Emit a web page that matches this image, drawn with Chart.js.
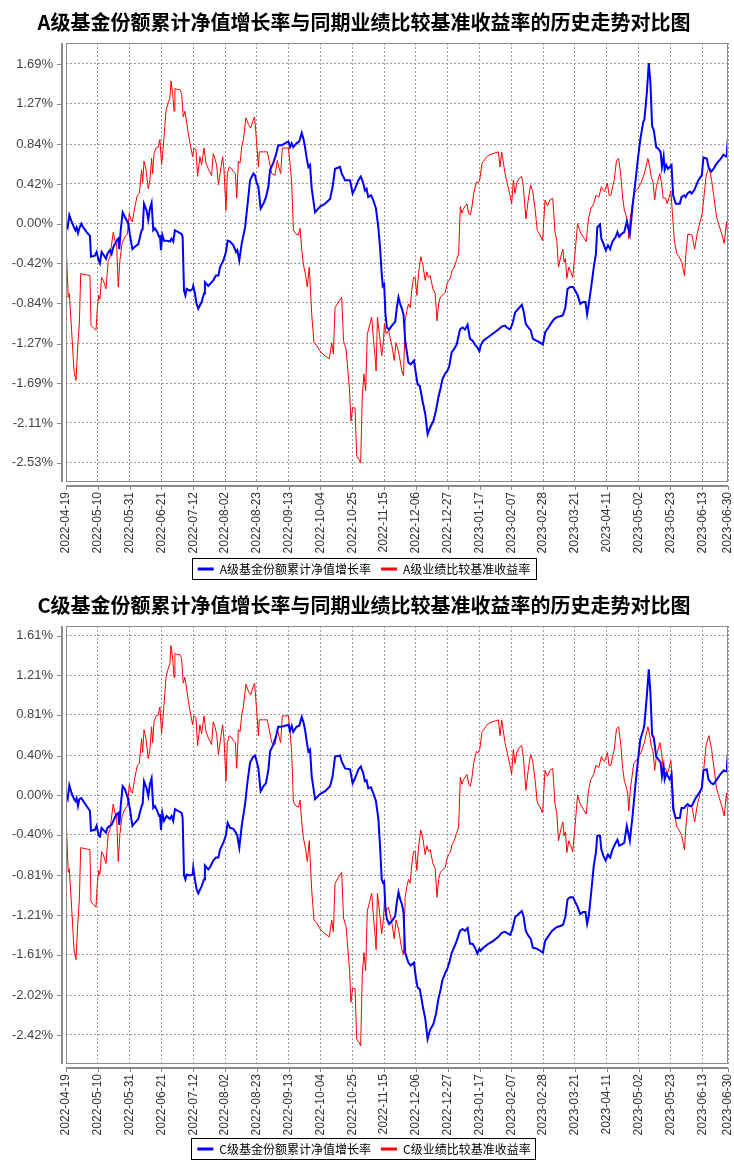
<!DOCTYPE html>
<html><head><meta charset="utf-8">
<script src="https://cdn.jsdelivr.net/npm/chart.js@4.4.1/dist/chart.umd.min.js"></script>
<style>
html,body{margin:0;padding:0;background:#fff;overflow:hidden;width:734px;height:1160px;}
.box{position:absolute;left:0;width:734px;}
#wa{top:0;height:585px;}
#wc{top:583px;height:582px;}
</style></head><body>
<div class="box" id="wa"><canvas id="ca"></canvas></div>
<div class="box" id="wc"><canvas id="cc"></canvas></div>
<script>
// ---- x axis: day offsets from 2022-04-19 and their date labels ----
const xTickDays = [0,21,42,63,84,105,126,147,168,189,210,231,252,273,294,315,336,357,378,399,420,437];
const xTickLabels = ['2022-04-19','2022-05-10','2022-05-31','2022-06-21','2022-07-12','2022-08-02','2022-08-23',
  '2022-09-13','2022-10-04','2022-10-25','2022-11-15','2022-12-06','2022-12-27','2023-01-17','2023-02-07',
  '2023-02-28','2023-03-21','2023-04-11','2023-05-02','2023-05-23','2023-06-13','2023-06-30'];

// ---- y tick labels (percent) ----
const yTicksA = [-2.53,-2.11,-1.69,-1.27,-0.84,-0.42,0.00,0.42,0.84,1.27,1.69];
const yTicksC = [-2.42,-2.02,-1.61,-1.21,-0.81,-0.40,0.00,0.40,0.81,1.21,1.61];

// ---- NAV series (days from 2022-04-19) ----
const navDays = [
  0,1.1,2.2,3.7,5.3,6.2,7.0,7.9,8.8,10.1,
  11.4,13.6,15.8,16.5,19.1,20.2,21.6,22.4,23.5,26.4,
  27.3,29.0,30.1,31.2,33.4,34.5,35.2,36.1,37.4,38.9,
  41.1,42.2,43.8,46.6,47.7,49.9,50.6,51.5,53.2,54.3,
  55.4,56.5,57.6,58.7,60.3,61.4,62.0,62.7,63.6,64.7,
  66.4,68.6,69.7,70.8,71.9,74.1,76.3,77.0,77.9,78.8,
  79.6,81.8,83.6,84.0,85.1,86.2,87.3,89.5,91.1,91.7,
  93.9,95.0,97.2,99.0,100.6,101.7,103.9,105.6,106.7,108.3,
  110.5,112.2,113.1,114.4,116.0,118.2,119.7,121.5,123.7,124.8,
  125.9,127.0,128.5,130.3,132.0,133.6,134.7,136.8,138.6,140.1,
  142.4,144.6,146.8,147.9,149.0,150.0,152.2,154.0,155.6,156.7,
  157.8,158.9,160.0,161.1,162.2,164.4,167.7,171.0,174.3,176.0,
  177.6,180.9,182.0,184.2,187.5,189.2,190.8,193.0,194.6,196.2,
  197.3,198.4,199.5,201.3,202.8,204.6,206.2,207.3,208.4,209.1,
  210.0,210.9,211.8,213.3,215.1,217.3,218.4,219.5,220.6,221.7,
  222.8,223.9,226.0,227.5,229.7,231.0,232.1,233.6,235.4,237.2,
  238.7,240.3,242.5,244.2,245.8,247.3,248.4,250.2,251.7,253.0,
  254.6,256.1,257.9,260.1,261.8,263.4,265.1,266.7,268.4,270.0,
  271.5,272.9,273.7,275.5,278.8,282.1,285.4,287.6,289.8,290.9,
  293.2,294.7,296.5,298.7,300.9,302.0,303.5,305.3,306.8,308.2,
  310.8,313.0,314.8,316.3,318.5,320.8,322.3,324.1,326.3,328.0,
  329.6,331.1,332.9,334.7,336.2,337.8,339.5,341.3,342.9,344.0,
  345.1,346.7,348.4,349.8,350.7,352.5,353.4,354.7,356.3,357.8,
  359.2,360.7,362.9,364.0,365.2,366.7,368.5,370.2,372.2,374.0,
  375.8,377.4,379.1,381.1,381.8,383.4,384.7,385.8,386.9,388.0,
  389.6,391.1,392.5,393.4,394.5,395.2,396.3,397.4,398.5,399.7,
  400.8,402.5,405.2,406.3,408.1,409.0,410.3,411.9,413.0,414.1,
  415.2,417.4,419.7,420.8,423.0,424.1,425.9,427.4,429.7,431.9,
  434.1,435.7,436.3,437];

const navA = [
  0,-0.04,0.09,0.02,-0.04,-0.07,-0.04,-0.10,-0.05,0,
  -0.04,-0.09,-0.13,-0.35,-0.34,-0.30,-0.39,-0.42,-0.30,-0.37,
  -0.32,-0.28,-0.32,-0.25,-0.18,-0.16,-0.27,-0.07,0.12,0.07,
  0,-0.12,-0.27,-0.23,-0.22,-0.07,-0.06,0.21,0.14,0.04,
  0.16,0.22,-0.07,-0.05,-0.09,-0.14,-0.12,-0.28,-0.12,-0.18,
  -0.18,-0.19,-0.16,-0.19,-0.07,-0.09,-0.11,-0.14,-0.71,-0.76,
  -0.69,-0.71,-0.69,-0.66,-0.74,-0.85,-0.90,-0.83,-0.74,-0.62,
  -0.66,-0.64,-0.60,-0.55,-0.55,-0.46,-0.39,-0.30,-0.18,-0.19,
  -0.23,-0.30,-0.28,-0.39,-0.21,-0.04,0.18,0.46,0.53,0.51,
  0.43,0.39,0.16,0.21,0.28,0.39,0.57,0.64,0.73,0.83,
  0.83,0.85,0.87,0.81,0.85,0.81,0.85,0.87,0.96,0.90,
  0.81,0.69,0.60,0.62,0.37,0.12,0.18,0.21,0.26,0.39,
  0.58,0.60,0.53,0.46,0.46,0.32,0.37,0.46,0.50,0.43,
  0.35,0.37,0.28,0.30,0.25,0.16,-0.04,-0.25,-0.53,-0.66,
  -0.64,-0.96,-1.10,-1.12,-1.08,-1.04,-0.89,-0.78,-0.85,-0.90,
  -0.96,-1.24,-1.47,-1.49,-1.45,-1.59,-1.70,-1.72,-1.88,-2.02,
  -2.23,-2.16,-2.09,-1.98,-1.84,-1.74,-1.65,-1.59,-1.56,-1.51,
  -1.36,-1.33,-1.28,-1.12,-1.10,-1.12,-1.07,-1.22,-1.24,-1.28,
  -1.31,-1.35,-1.29,-1.24,-1.20,-1.16,-1.12,-1.09,-1.08,-1.10,
  -1.12,-1.06,-0.94,-0.90,-0.86,-0.92,-1.06,-1.10,-1.13,-1.22,
  -1.24,-1.26,-1.28,-1.15,-1.10,-1.04,-1.01,-0.99,-0.98,-0.97,
  -0.89,-0.69,-0.67,-0.67,-0.71,-0.76,-0.85,-0.83,-0.83,-0.96,
  -0.85,-0.67,-0.46,-0.32,-0.04,-0.01,-0.16,-0.21,-0.28,-0.23,
  -0.27,-0.19,-0.14,-0.09,-0.14,-0.11,-0.09,0.02,-0.11,0.18,
  0.43,0.67,0.89,1.08,1.10,1.38,1.70,1.49,1.03,0.99,
  0.81,0.79,0.76,0.60,0.71,0.57,0.62,0.58,0.60,0.62,
  0.30,0.21,0.21,0.28,0.30,0.28,0.32,0.34,0.32,0.34,
  0.37,0.46,0.51,0.70,0.69,0.60,0.55,0.58,0.64,0.68,
  0.73,0.71,0.76,0.92];

const navC = [
  0,-0.04,0.10,0.02,-0.04,-0.06,-0.03,-0.11,-0.04,-0.03,
  -0.06,-0.11,-0.16,-0.36,-0.35,-0.31,-0.41,-0.42,-0.33,-0.38,
  -0.33,-0.31,-0.30,-0.26,-0.19,-0.18,-0.30,-0.11,0.09,0.06,
  -0.04,-0.14,-0.31,-0.26,-0.24,-0.11,-0.09,0.14,0.07,-0.01,
  0.11,0.17,-0.13,-0.11,-0.16,-0.21,-0.19,-0.35,-0.18,-0.26,
  -0.21,-0.24,-0.21,-0.26,-0.14,-0.16,-0.18,-0.23,-0.81,-0.85,
  -0.80,-0.81,-0.80,-0.73,-0.85,-0.95,-0.99,-0.92,-0.85,-0.71,
  -0.75,-0.73,-0.66,-0.63,-0.63,-0.55,-0.48,-0.40,-0.28,-0.33,
  -0.34,-0.38,-0.41,-0.53,-0.31,-0.09,0.12,0.33,0.39,0.40,
  0.34,0.27,0.04,0.09,0.12,0.26,0.44,0.51,0.59,0.69,
  0.69,0.70,0.71,0.65,0.70,0.64,0.69,0.70,0.79,0.74,
  0.66,0.54,0.44,0.46,0.19,-0.04,0.01,0.04,0.09,0.19,
  0.39,0.40,0.34,0.27,0.26,0.12,0.17,0.26,0.29,0.22,
  0.14,0.15,0.07,0.08,0.02,-0.06,-0.24,-0.51,-0.85,-0.88,
  -0.87,-1.15,-1.25,-1.30,-1.27,-1.22,-1.08,-0.98,-1.05,-1.10,
  -1.18,-1.59,-1.69,-1.72,-1.69,-1.85,-1.94,-1.96,-2.12,-2.26,
  -2.46,-2.37,-2.31,-2.21,-2.06,-1.96,-1.87,-1.80,-1.75,-1.69,
  -1.59,-1.54,-1.47,-1.37,-1.35,-1.37,-1.34,-1.50,-1.50,-1.54,
  -1.60,-1.55,-1.57,-1.54,-1.50,-1.47,-1.43,-1.39,-1.38,-1.39,
  -1.41,-1.35,-1.23,-1.20,-1.17,-1.22,-1.37,-1.42,-1.45,-1.54,
  -1.55,-1.57,-1.59,-1.47,-1.42,-1.37,-1.35,-1.33,-1.32,-1.31,
  -1.23,-1.05,-1.03,-1.03,-1.08,-1.13,-1.20,-1.18,-1.18,-1.30,
  -1.22,-0.98,-0.71,-0.58,-0.41,-0.41,-0.55,-0.61,-0.66,-0.60,
  -0.63,-0.55,-0.48,-0.45,-0.51,-0.50,-0.48,-0.31,-0.46,-0.21,
  0.09,0.33,0.56,0.66,0.71,1.00,1.27,1.03,0.61,0.58,
  0.39,0.36,0.33,0.19,0.29,0.16,0.22,0.19,0.16,0.21,
  -0.14,-0.23,-0.23,-0.13,-0.13,-0.11,-0.09,-0.11,-0.11,-0.08,
  -0.04,0.01,0.07,0.25,0.26,0.16,0.12,0.11,0.16,0.21,
  0.25,0.24,0.29,0.44];

// ---- benchmark series (same benchmark for A and C) ----
const benchDays = [
  0,1.5,2.2,3.7,5.3,6.6,7.7,8.8,9.7,15.8,
  16.5,18.0,19.8,20.7,21.6,22.4,23.5,24.6,26.4,27.9,
  29.0,31.2,32.3,33.4,34.5,35.6,37.0,38.9,40.5,41.8,
  42.9,43.8,45.5,47.1,48.4,49.9,50.6,51.5,52.8,54.3,
  55.4,56.5,57.2,58.1,59.4,60.9,62.0,63.1,64.2,66.0,
  67.5,68.6,69.3,70.4,71.3,71.9,73.5,75.2,76.3,77.4,
  78.5,80.7,82.3,83.6,84.5,85.8,86.9,88.4,89.5,91.1,
  92.4,93.9,96.1,97.2,98.3,99.4,100.6,101.7,103.4,104.3,
  105.6,106.5,107.8,109.4,110.5,111.8,112.7,113.8,114.9,116.0,
  117.1,118.8,120.4,121.9,123.2,124.5,125.9,127.0,127.6,130.3,
  132.9,134.2,135.8,138.0,139.5,140.8,141.7,142.8,144.6,146.8,
  147.9,149.0,150.1,151.9,153.4,154.5,155.6,156.7,158.2,159.3,
  160.6,162.2,163.7,165.5,167.7,171.0,173.8,175.4,176.5,177.6,
  179.8,182.0,183.2,184.9,187.2,188.1,189.2,190.8,191.9,193.6,
  194.5,195.6,196.7,197.8,198.9,200.7,201.8,203.0,204.1,204.7,
  205.6,206.9,208.4,209.6,210.2,211.4,212.9,215.1,216.7,217.8,
  219.5,221.7,222.8,223.9,225.0,226.1,227.2,228.2,229.4,230.5,
  231.6,232.7,234.2,235.5,237.1,238.2,239.3,240.4,242.2,243.7,
  244.9,246.0,247.1,248.2,250.4,251.5,252.6,253.7,254.8,256.3,
  257.7,259.2,260.3,261.4,262.5,264.7,265.8,266.9,268.0,269.1,
  270.9,272.0,273.1,274.6,276.2,277.9,279.9,285.4,286.5,287.6,
  289.8,293.1,294.2,295.3,296.4,297.5,299.2,300.8,301.9,303.6,
  305.1,306.7,308.0,309.6,311.1,312.9,314.6,316.2,317.8,319.5,
  321.3,322.8,324.0,325.1,326.6,328.0,328.8,329.7,330.6,331.9,
  333.2,334.5,336.2,337.7,339.5,341.4,343.4,344.9,346.5,348.3,
  349.8,351.8,353.4,354.7,355.6,357.4,358.5,359.7,360.8,361.9,
  363.4,364.8,366.3,367.5,368.6,369.7,370.8,371.5,372.4,373.4,
  374.8,377.4,379.6,381.8,384.1,385.3,386.3,387.5,388.6,389.7,
  390.8,392.0,393.1,394.2,395.8,396.9,398.2,399.3,400.3,401.6,
  403.2,404.7,406.5,407.6,408.3,409.2,410.5,413.2,415.0,416.6,
  417.7,420.0,421.1,422.6,424.4,426.2,427.8,429.4,431.1,432.9,
  434.5,436.0,436.6,437];

const bench = [
  -0.21,-0.78,-0.74,-1.13,-1.56,-1.66,-1.31,-1.06,-0.53,-0.55,
  -1.08,-1.10,-1.13,-0.89,-0.76,-0.80,-0.57,-0.60,-0.69,-0.39,
  -0.35,-0.09,-0.18,-0.21,-0.67,-0.39,-0.21,-0.14,-0.11,0.11,
  0.04,0.02,0.18,0.30,0.32,0.57,0.43,0.66,0.57,0.37,
  0.46,0.69,0.53,0.74,0.80,0.81,0.89,0.62,0.81,1.19,
  1.28,1.33,1.51,1.38,1.19,1.43,1.42,1.42,1.38,1.13,
  1.19,0.96,0.81,0.71,0.80,0.78,0.50,0.71,0.62,0.80,
  0.64,0.58,0.51,0.74,0.69,0.62,0.41,0.53,0.71,0.57,
  0.14,0.53,0.60,0.58,0.55,0.53,0.27,0.66,0.64,0.81,
  0.89,1.12,1.05,1.01,1.08,1.13,0.85,0.60,0.76,0.76,
  0.76,0.66,0.53,0.51,0.67,0.58,0.53,0.80,0.80,0.80,
  0.64,0.43,-0.07,-0.11,-0.12,-0.05,-0.27,-0.43,-0.55,-0.67,
  -0.46,-0.96,-1.26,-1.29,-1.35,-1.40,-1.43,-1.26,-1.38,-0.89,
  -0.83,-0.78,-1.24,-1.33,-1.77,-2.09,-1.95,-1.95,-2.46,-2.50,
  -2.53,-1.81,-1.59,-1.77,-1.17,-1.06,-0.99,-1.24,-1.42,-1.56,
  -0.99,-1.17,-1.40,-1.24,-1.06,-1.17,-1.13,-1.29,-1.45,-1.26,
  -1.35,-1.56,-1.61,-1.03,-0.92,-0.85,-0.89,-0.71,-0.57,-0.57,
  -0.76,-0.53,-0.35,-0.43,-0.60,-0.51,-0.57,-0.55,-0.69,-0.74,
  -1.03,-0.85,-0.78,-0.76,-0.73,-0.64,-0.60,-0.58,-0.50,-0.46,
  -0.39,-0.32,0.18,0.11,0.16,0.21,0.11,0.09,0.18,0.32,
  0.44,0.43,0.46,0.64,0.67,0.71,0.73,0.76,0.60,0.76,
  0.53,0.30,0.21,0.46,0.32,0.43,0.48,0.50,0.39,0.05,
  0.25,0.41,0.35,0.16,-0.07,-0.12,-0.18,0.25,0.19,0.25,
  0.27,-0.09,-0.18,-0.46,-0.35,-0.27,-0.41,-0.37,-0.58,-0.46,
  -0.51,-0.57,-0.28,0.00,-0.09,-0.14,-0.19,0.05,0.16,0.21,
  0.30,0.28,0.39,0.35,0.34,0.43,0.30,0.30,0.39,0.46,
  0.67,0.69,0.50,0.27,0.14,0.09,0.02,-0.16,0.04,0.16,
  0.32,0.37,0.43,0.53,0.69,0.60,0.50,0.44,0.25,0.39,
  0.46,0.53,0.43,0.27,0.27,0.21,0.28,0.35,0.11,-0.18,
  -0.32,-0.35,-0.41,-0.50,-0.55,-0.32,-0.11,-0.12,-0.27,-0.11,
  -0.04,0.11,0.28,0.51,0.60,0.46,0.27,0.07,-0.02,-0.11,
  -0.21,0.02,-0.07,0.09];

const titles = ['A级基金份额累计净值增长率与同期业绩比较基准收益率的历史走势对比图',
                'C级基金份额累计净值增长率与同期业绩比较基准收益率的历史走势对比图'];
const seriesNames = [['A级基金份额累计净值增长率','A级业绩比较基准收益率'],
                     ['C级基金份额累计净值增长率','C级业绩比较基准收益率']];

const AXIS_GRAY = '#8a8a8a';
const decorPlugin = {
  id: 'decor',
  afterDraw(chart) {
    const {ctx, chartArea: a, scales} = chart;
    ctx.save();
    // plot frame
    ctx.strokeStyle = '#8c8c8c';
    ctx.lineWidth = 1;
    ctx.strokeRect(Math.round(a.left) + 0.5, Math.round(a.top) + 0.5, Math.round(a.width) - 1, Math.round(a.height) - 1);
    // offset y axis line with ticks
    ctx.strokeStyle = AXIS_GRAY;
    ctx.lineWidth = 2;
    const ax = Math.round(a.left) - 4;
    ctx.beginPath();
    ctx.moveTo(ax, a.top); ctx.lineTo(ax, a.bottom);
    ctx.stroke();
    ctx.lineWidth = 1;
    ctx.beginPath();
    scales.y.ticks.forEach(t => {
      const y = Math.round(scales.y.getPixelForValue(t.value)) + 0.5;
      ctx.moveTo(ax - 5, y); ctx.lineTo(ax, y);
    });
    ctx.stroke();
    // offset x axis line with ticks
    ctx.lineWidth = 2;
    const ay = Math.round(a.bottom) + 4;
    ctx.beginPath();
    ctx.moveTo(a.left, ay); ctx.lineTo(a.right, ay);
    ctx.stroke();
    ctx.lineWidth = 1;
    ctx.beginPath();
    scales.x.ticks.forEach(t => {
      const x = Math.round(scales.x.getPixelForValue(t.value)) + 0.5;
      ctx.moveTo(x, ay); ctx.lineTo(x, ay + 4);
    });
    ctx.stroke();
    // legend border
    const hb = chart.legend && chart.legend.legendHitBoxes;
    if (hb && hb.length) {
      let l = Infinity, r = -Infinity, t = Infinity, b = -Infinity;
      hb.forEach(h => { l = Math.min(l, h.left); r = Math.max(r, h.left + h.width); t = Math.min(t, h.top); b = Math.max(b, h.top + h.height); });
      ctx.strokeStyle = '#000';
      ctx.lineWidth = 1;
      ctx.strokeRect(Math.round(l) - 5.5, Math.round(t) - 4.5, Math.round(r - l) + 11, Math.round(b - t) + 9);
    }
    ctx.restore();
  }
};

function makeChart(canvasId, idx, navVals, yTicks, yMin, yMax, xAxisHeight) {
  const navPts = navDays.map((d, i) => ({x: d, y: navVals[i]}));
  const benchPts = benchDays.map((d, i) => ({x: d, y: bench[i]}));
  return new Chart(document.getElementById(canvasId), {
    type: 'line',
    data: {
      datasets: [
        {label: seriesNames[idx][0], data: navPts, borderColor: '#0000ff', backgroundColor: '#0000ff',
         borderWidth: 2, pointRadius: 0, tension: 0},
        {label: seriesNames[idx][1], data: benchPts, borderColor: '#ff0000', backgroundColor: '#ff0000',
         borderWidth: 1, pointRadius: 0, tension: 0}
      ]
    },
    options: {
      responsive: true,
      maintainAspectRatio: false,
      animation: false,
      devicePixelRatio: 1,
      layout: {padding: {left: 0, right: 6, top: 0, bottom: 0}},
      plugins: {
        title: {display: true, text: titles[idx], color: '#000',
                font: {family: '"Noto Sans CJK SC", sans-serif', size: 20, weight: 'bold'},
                padding: {top: 10, bottom: 9}},
        legend: {position: 'bottom',
          labels: {color: '#000', boxWidth: 16, boxHeight: 3, padding: 10,
                   font: {family: '"Noto Sans CJK SC", sans-serif', size: 12},
                   generateLabels(chart) {
                     const items = Chart.defaults.plugins.legend.labels.generateLabels(chart);
                     items.forEach(it => { it.lineWidth = 0; });
                     return items;
                   }}},
        tooltip: {enabled: false}
      },
      scales: {
        x: {type: 'linear', min: 0, max: 437,
            afterBuildTicks(s) { s.ticks = xTickDays.map(v => ({value: v})); },
            afterFit(s) {
              s.height = xAxisHeight; s.paddingLeft = 0; s.paddingRight = 0;
              s._computeLabelArea = () => null;   // do not clip the rotated date labels
            },
            ticks: {autoSkip: false, minRotation: 90, maxRotation: 90, padding: 10, color: '#333',
                    font: {family: '"Liberation Sans", Arial, sans-serif', size: 12, lineHeight: 1},
                    callback: (v, i) => xTickLabels[i]},
            grid: {color: '#9a9a9a', drawTicks: false},
            border: {display: false, dash: [2, 2]}},
        y: {type: 'linear', min: yMin, max: yMax,
            afterBuildTicks(s) { s.ticks = yTicks.map(v => ({value: v})); },
            afterFit(s) { s.width = 66; s.paddingTop = 0; s.paddingBottom = 0; },
            ticks: {padding: 13, color: '#444',
                    font: {family: '"Liberation Sans", Arial, sans-serif', size: 13},
                    callback: (v, i) => yTicks[i].toFixed(2) + '%'},
            grid: {color: '#9a9a9a', drawTicks: false},
            border: {display: false, dash: [2, 2]}}
      }
    },
    plugins: [decorPlugin]
  });
}

makeChart('ca', 0, navA, yTicksA, -2.735, 1.912, 71);
makeChart('cc', 1, navC, yTicksC, -2.713, 1.707, 69);
</script>
</body></html>
